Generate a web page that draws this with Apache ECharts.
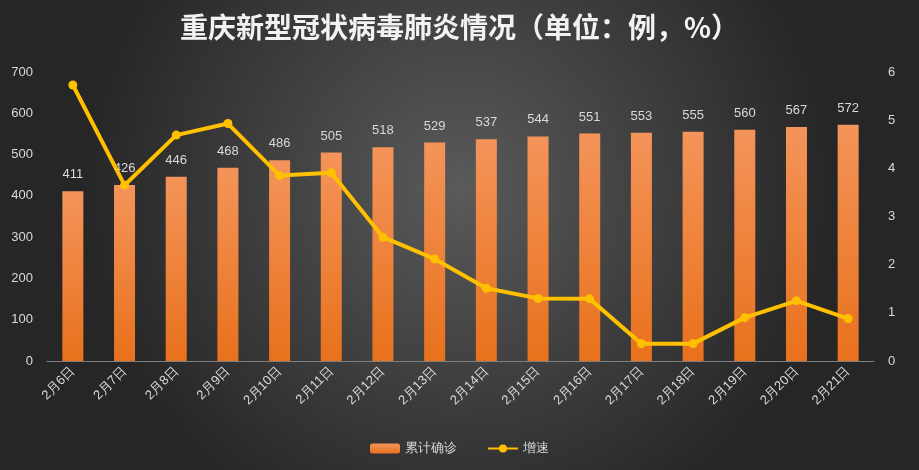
<!DOCTYPE html>
<html>
<head>
<meta charset="utf-8">
<script src="https://cdn.jsdelivr.net/npm/echarts@6/dist/echarts.min.js"></script>
<style>
html,body{margin:0;padding:0;}
#main{width:919px;height:470px;}
</style>
</head>
<body>
<div id="main"></div>
<script>
var dates = ['2月6日','2月7日','2月8日','2月9日','2月10日','2月11日','2月12日','2月13日','2月14日','2月15日','2月16日','2月17日','2月18日','2月19日','2月20日','2月21日'];
var confirmed = [411,426,446,468,486,505,518,529,537,544,551,553,555,560,567,572];
var growth = [5.73,3.65,4.69,4.93,3.85,3.91,2.57,2.12,1.51,1.30,1.29,0.36,0.36,0.90,1.25,0.88];

var chart = echarts.init(document.getElementById('main'));
chart.setOption({
    backgroundColor: {
        type: 'radial', x: 0.5, y: 0.4, r: 0.8,
        colorStops: [{offset: 0, color: '#5a5a5a'}, {offset: 1, color: '#262626'}]
    },
    title: {
        text: '重庆新型冠状病毒肺炎情况（单位：例，%）',
        left: 'center',
        top: 8,
        textStyle: {color: '#f2f2f2', fontSize: 28, fontWeight: 'bold', fontFamily: 'Noto Sans CJK SC', letterSpacing: 1}
    },
    legend: {
        bottom: 10,
        itemGap: 30,
        itemWidth: 30,
        itemHeight: 10,
        textStyle: {color: '#d9d9d9', fontSize: 13},
        data: ['累计确诊', '增速']
    },
    grid: {left: 47, right: 45, top: 72, bottom: 109},
    xAxis: [{
        type: 'category',
        data: dates,
        axisLine: {lineStyle: {color: '#7f7f7f'}},
        axisTick: {show: false},
        axisLabel: {color: '#d9d9d9', fontSize: 13, rotate: 45, interval: 0}
    }],
    yAxis: [{
        type: 'value', min: 0, max: 700, interval: 100,
        axisLabel: {color: '#d9d9d9', fontSize: 13, margin: 14},
        splitLine: {show: false}
    }, {
        type: 'value', min: 0, max: 6, interval: 1,
        axisLabel: {color: '#d9d9d9', fontSize: 13, margin: 14},
        splitLine: {show: false}
    }],
    series: [{
        name: '累计确诊',
        type: 'bar',
        barWidth: 21,
        data: confirmed,
        itemStyle: {color: {type: 'linear', x: 0, y: 0, x2: 0, y2: 1,
            colorStops: [{offset: 0, color: '#f4945a'}, {offset: 1, color: '#e8711c'}]}},
        label: {show: true, position: 'top', color: '#d9d9d9', fontSize: 13, distance: 10}
    }, {
        name: '增速',
        type: 'line',
        yAxisIndex: 1,
        data: growth,
        symbol: 'circle',
        symbolSize: 9,
        lineStyle: {color: '#ffc000', width: 4},
        itemStyle: {color: '#ffc000'}
    }]
});
</script>
</body>
</html>
